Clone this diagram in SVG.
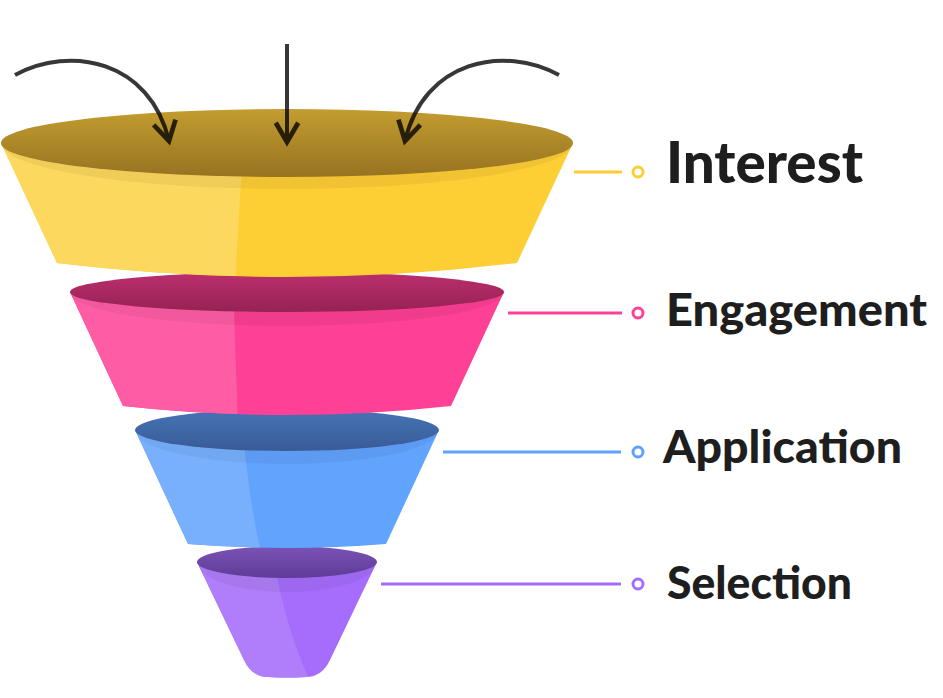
<svg xmlns="http://www.w3.org/2000/svg" width="943" height="698" viewBox="0 0 943 698">
<style>
.lbl{font-family:Lato,"Open Sans","Liberation Sans",sans-serif;font-weight:900;fill:#1E1E1E}
.rim{fill:#000;fill-opacity:0.05}
.lead{fill:none;stroke-width:3}
.dot{fill:#fff;stroke-width:3}
.arr{fill:none;stroke:#000;stroke-width:4;marker-end:url(#chev)}
</style>
<defs>
<marker id="chev" markerUnits="userSpaceOnUse" orient="auto" refX="0" refY="0" markerWidth="30" markerHeight="30" viewBox="-22 -14 26 28" overflow="visible">
<path d="M-18,-10.5 L0,0 L-18,10.5" fill="none" stroke="#000" stroke-width="4.4"/>
</marker>
<linearGradient id="gY" x1="0" y1="0" x2="0" y2="1"><stop offset="0" stop-color="#C39D2F"/><stop offset="1" stop-color="#977321"/></linearGradient>
<linearGradient id="gP" x1="0" y1="0" x2="0" y2="1"><stop offset="0" stop-color="#BB2F6D"/><stop offset="1" stop-color="#962253"/></linearGradient>
<linearGradient id="gB" x1="0" y1="0" x2="0" y2="1"><stop offset="0" stop-color="#4674B7"/><stop offset="1" stop-color="#395B96"/></linearGradient>
<linearGradient id="gV" x1="0" y1="0" x2="0" y2="1"><stop offset="0" stop-color="#7C52B6"/><stop offset="1" stop-color="#5E3C96"/></linearGradient>
<clipPath id="cY"><path d="M1,143 L57,263 Q287,291 517,263 L573,143 Z"/></clipPath>
<clipPath id="cP"><path d="M70,292 L123,406 Q287,424 451,406 L504,292 Z"/></clipPath>
<clipPath id="cB"><path d="M135,430 L188,544 Q287,552 386,544 L439,430 Z"/></clipPath>
<clipPath id="cV"><path d="M197,562 L244,660 Q252,677 268,677 Q287,678 306,677 Q322,677 330,660 L377,562 Z"/></clipPath>
</defs>

<g id="selection">
<g clip-path="url(#cV)">
<rect x="190" y="550" width="200" height="140" fill="#A66DFC"/>
<path d="M180,550 L272,550 Q285,630 314,690 L180,690 Z" fill="#B07EFB"/>
<ellipse class="rim" cx="287" cy="562" rx="90" ry="30"/>
</g>
<ellipse cx="287" cy="562" rx="90" ry="16" fill="url(#gV)"/>
<text class="lbl" x="667" y="599" font-size="46" textLength="185" lengthAdjust="spacingAndGlyphs">Selection</text>
</g>

<g id="application">
<g clip-path="url(#cB)">
<rect x="130" y="420" width="320" height="140" fill="#61A4FE"/>
<path d="M120,420 L242,420 Q248,500 263,560 L120,560 Z" fill="#79B0FE"/>
<ellipse class="rim" cx="287" cy="430" rx="152" ry="34"/>
</g>
<ellipse cx="287" cy="430" rx="152" ry="21" fill="url(#gB)"/>
<text class="lbl" x="663" y="463" font-size="46" textLength="239" lengthAdjust="spacingAndGlyphs">Application</text>
</g>

<g id="engagement">
<g clip-path="url(#cP)">
<rect x="60" y="280" width="460" height="150" fill="#FE4096"/>
<path d="M50,280 L233,280 L238,430 L50,430 Z" fill="#FE5DA6"/>
<ellipse class="rim" cx="287" cy="292" rx="217" ry="34"/>
</g>
<ellipse cx="287" cy="292" rx="217" ry="20" fill="url(#gP)"/>
<text class="lbl" x="666" y="326" font-size="46" textLength="261" lengthAdjust="spacingAndGlyphs">Engagement</text>
</g>

<g id="interest">
<g clip-path="url(#cY)">
<rect x="0" y="130" width="580" height="170" fill="#FECE35"/>
<path d="M-5,130 L244,130 L234,300 L-5,300 Z" fill="#FDD85E"/>
<ellipse class="rim" cx="287" cy="143" rx="286" ry="46"/>
</g>
<ellipse cx="287" cy="143" rx="286" ry="34" fill="url(#gY)"/>
<text class="lbl" x="666" y="183" font-size="57" textLength="197" lengthAdjust="spacingAndGlyphs">Interest</text>
</g>

<g id="connectors">
<line class="lead" x1="574" y1="172" x2="622" y2="172" stroke="#FFCC33"/>
<circle class="dot" cx="638" cy="172" r="5" stroke="#FFCC33"/>
<line class="lead" x1="508" y1="313" x2="622" y2="313" stroke="#FF4096"/>
<circle class="dot" cx="638" cy="313" r="5" stroke="#FF4096"/>
<line class="lead" x1="443" y1="452" x2="621" y2="452" stroke="#5EA2FD"/>
<circle class="dot" cx="638" cy="452" r="5" stroke="#5EA2FD"/>
<line class="lead" x1="381" y1="584" x2="621" y2="584" stroke="#A56CFC"/>
<circle class="dot" cx="638" cy="584" r="5" stroke="#A56CFC"/>
<g opacity="0.78">
<path class="arr" d="M287,44 L287,142"/>
<path class="arr" d="M15,75 C70,45 150,60 169,141"/>
<path class="arr" d="M559,75 C504,45 424,60 405,141"/>
</g>
</g>
</svg>
